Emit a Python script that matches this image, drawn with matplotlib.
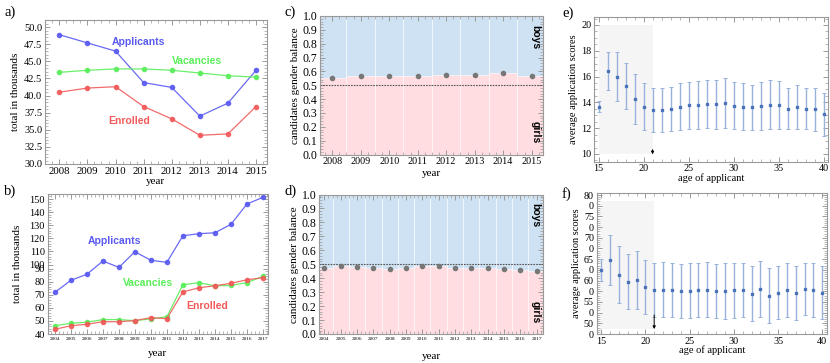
import numpy as np
import matplotlib
matplotlib.use("Agg")
import matplotlib.pyplot as plt
from matplotlib.ticker import MultipleLocator, FixedLocator

# ---------------- data ----------------
years_a = [2008, 2009, 2010, 2011, 2012, 2013, 2014, 2015]
applicants_a = [48.9, 47.7, 46.5, 41.9, 41.2, 37.0, 38.9, 43.7]
vacancies_a = [43.4, 43.7, 43.9, 43.9, 43.7, 43.3, 42.9, 42.7]
enrolled_a = [40.5, 41.1, 41.3, 38.4, 36.6, 34.2, 34.4, 38.4]

years_b = list(range(2004, 2018))
applicants_b = [71.8, 81.0, 85.6, 102.7, 93.0, 109.8, 103.3, 101.7, 122.0, 123.6, 124.3, 130.7, 146.2, 151.4]
vacancies_b = [46.3, 48.2, 49.0, 51.0, 51.0, 50.2, 51.5, 53.2, 77.6, 79.2, 76.8, 77.1, 79.2, 84.0]
enrolled_b = [43.6, 46.3, 47.4, 49.4, 49.4, 50.2, 52.5, 51.7, 72.1, 75.3, 76.8, 78.7, 81.4, 83.0]
yticks_b = [40, 50, 60, 70, 80, 90, 100, 110, 120, 130, 140, 150]

balance_c = [0.555, 0.565, 0.570, 0.570, 0.576, 0.573, 0.585, 0.565]
balance_d = [0.476, 0.488, 0.481, 0.471, 0.466, 0.476, 0.486, 0.486, 0.471, 0.474, 0.471, 0.469, 0.459, 0.452]

ages = list(range(15, 41))
score_e = [13.67, 16.43, 16.0, 15.27, 14.26, 13.67, 13.41, 13.41, 13.51, 13.67, 13.77, 13.80, 13.85,
           13.85, 13.93, 13.75, 13.67, 13.62, 13.72, 13.80, 13.77, 13.51, 13.64, 13.51, 13.46, 13.07]
err_e = [0.42, 1.5, 1.9, 1.8, 1.9, 1.8, 1.7, 1.7, 1.7, 1.8, 1.8, 1.85, 1.85,
         1.9, 1.95, 1.85, 1.8, 1.75, 1.85, 1.9, 1.85, 1.6, 1.7, 1.6, 1.65, 1.65]
score_f = [62.5, 64.8, 61.4, 59.7, 60.1, 58.5, 57.8, 57.9, 57.7, 57.6, 57.6, 57.8, 57.9,
           57.6, 57.6, 57.7, 57.8, 56.9, 58.0, 56.5, 57.2, 57.8, 57.0, 58.0, 57.7, 57.2]
err_f = [2.5, 5.8, 6.6, 6.4, 6.7, 6.4, 6.4, 6.4, 6.3, 6.3, 6.4, 6.4, 6.5,
         6.3, 6.6, 6.5, 6.4, 6.4, 6.5, 6.4, 6.3, 6.4, 6.3, 6.0, 6.3, 6.2]
yticks_f = [47.5, 50, 52.5, 55, 57.5, 60, 62.5, 65, 67.5, 70, 72.5, 75, 77.5, 80]
yticklabels_f = ["0", "50", "0", "55", "0", "60", "0", "65", "0", "70", "0", "75", "0", "80"]

# ---------------- style ----------------
SERIF = "Liberation Serif"
SANS = "Liberation Sans"
BLUE = "#5a5af2"
GREEN = "#5aee5a"
RED = "#f25a5a"
FRAME = "#9a9a9a"

W, H = 830, 363
fig = plt.figure(figsize=(W / 100, H / 100), dpi=100)


def add_ax(l, t, r, b):
    return fig.add_axes([l / W, 1 - b / H, (r - l) / W, (b - t) / H])


def frame(ax, xfs, yfs):
    for s in ax.spines.values():
        s.set_color(FRAME)
        s.set_linewidth(0.8)
    ax.tick_params(which="both", direction="in", top=True, right=True, color=FRAME)
    ax.tick_params(which="major", length=3.5, width=0.7)
    ax.tick_params(which="minor", length=2, width=0.5)
    ax.tick_params(axis="x", labelsize=xfs, pad=2)
    ax.tick_params(axis="y", labelsize=yfs, pad=2)
    for lab in ax.get_xticklabels() + ax.get_yticklabels():
        lab.set_fontfamily(SERIF)


def plabel(x, y, s):
    fig.text(x / W, 1 - y / H, s, family=SERIF, fontsize=10.5, ha="left", va="center")


# ---------------- a ----------------
ax = add_ax(45, 20, 266.7, 164)
ax.plot(years_a, applicants_a, "-o", color=BLUE, ms=3.0, lw=0.9, alpha=0.9)
ax.plot(years_a, vacancies_a, "-o", color=GREEN, ms=3.0, lw=0.9, alpha=0.9)
ax.plot(years_a, enrolled_a, "-o", color=RED, ms=3.0, lw=0.9, alpha=0.9)
ax.set_xlim(2007.49, 2015.38)
ax.set_ylim(30, 51.05)
ax.set_xticks(years_a)
ax.set_yticks(np.arange(30, 50.1, 2.5))
ax.set_yticklabels([f"{v:.1f}" for v in np.arange(30, 50.1, 2.5)])
ax.xaxis.set_minor_locator(MultipleLocator(0.25))
ax.yaxis.set_minor_locator(MultipleLocator(0.5))
frame(ax, 7.8, 7.5)
ax.set_xlabel("year", family=SERIF, fontsize=8, labelpad=1)
ax.set_ylabel("total in thousands", family=SERIF, fontsize=8, labelpad=3)
ax.text(2010.8, 47.9, "Applicants", color=BLUE, family=SANS, weight="bold", fontsize=7.5, ha="center", va="center")
ax.text(2012.9, 45.1, "Vacancies", color=GREEN, family=SANS, weight="bold", fontsize=7.5, ha="center", va="center")
ax.text(2010.5, 36.3, "Enrolled", color=RED, family=SANS, weight="bold", fontsize=7.5, ha="center", va="center")
plabel(4, 12, "a)")

# ---------------- b ----------------
def fwd(v):
    v = np.asarray(v, dtype=float)
    return np.where(v <= 90, v, np.where(v >= 100, v - 7, 90 + (v - 90) * 0.3))


def inv(p):
    p = np.asarray(p, dtype=float)
    return np.where(p <= 90, p, np.where(p >= 93, p + 7, 90 + (p - 90) / 0.3))


ax = add_ax(47.7, 194, 267.7, 334)
ax.set_yscale("function", functions=(fwd, inv))
ax.plot(years_b, applicants_b, "-o", color=BLUE, ms=3.0, lw=0.9, alpha=0.9)
ax.plot(years_b, vacancies_b, "-o", color=GREEN, ms=3.0, lw=0.9, alpha=0.9)
ax.plot(years_b, enrolled_b, "-o", color=RED, ms=3.0, lw=0.9, alpha=0.9)
ax.set_xlim(2003.55, 2017.3)
ax.set_ylim(40, 153.9)
ax.set_xticks(years_b)
ax.yaxis.set_major_locator(FixedLocator(yticks_b))
ax.yaxis.set_minor_locator(FixedLocator([v for v in range(40, 154, 2) if not (90 <= v <= 100)]))
ax.set_yticklabels([str(v) for v in yticks_b])
ax.xaxis.set_minor_locator(MultipleLocator(0.25))
frame(ax, 3.8, 7.5)
ax.set_xlabel("year", family=SERIF, fontsize=8, labelpad=6)
ax.set_ylabel("total in thousands", family=SERIF, fontsize=8, labelpad=5)
ax.text(2007.75, 118.2, "Applicants", color=BLUE, family=SANS, weight="bold", fontsize=7.5, ha="center", va="center")
ax.text(2009.8, 79.2, "Vacancies", color=GREEN, family=SANS, weight="bold", fontsize=7.5, ha="center", va="center")
ax.text(2013.5, 61.4, "Enrolled", color=RED, family=SANS, weight="bold", fontsize=7.5, ha="center", va="center")
plabel(4, 191, "b)")

# ---------------- c / d ----------------
PINK = "#ffdde1"
LBLUE = "#cfe2f3"


def balance(ax, years, vals, xlim, xfs):
    ax.bar(years, [1] * len(years), width=1, color=LBLUE, edgecolor="white", linewidth=0.4, zorder=0)
    ax.bar(years, vals, width=1, color=PINK, edgecolor="white", linewidth=0.4, zorder=1)
    ax.axhline(0.5, color="#555555", ls=(0, (1.5, 1)), lw=0.8, zorder=2)
    ax.plot(years, vals, "o", color="#777777", ms=3.0, zorder=3)
    ax.set_xlim(*xlim)
    ax.set_ylim(0, 1)
    ax.set_xticks(years)
    ax.set_yticks(np.arange(0, 1.01, 0.1))
    ax.set_yticklabels([f"{v:.1f}" for v in np.arange(0, 1.01, 0.1)])
    ax.xaxis.set_minor_locator(MultipleLocator(0.25))
    ax.yaxis.set_minor_locator(MultipleLocator(0.02))
    frame(ax, xfs, 8.5)
    ax.set_ylabel("candidates gender balance", family=SERIF, fontsize=8, labelpad=2)
    ax.text(0.965, 0.85, "boys", rotation=270, transform=ax.transAxes, family=SANS, weight="bold",
            fontsize=7.5, ha="center", va="center")
    ax.text(0.965, 0.16, "girls", rotation=270, transform=ax.transAxes, family=SANS, weight="bold",
            fontsize=7.5, ha="center", va="center")


ax = add_ax(320, 16, 543.3, 154.5)
balance(ax, years_a, balance_c, (2007.57, 2015.41), 7.3)
ax.set_xlabel("year", family=SERIF, fontsize=8, labelpad=2)
plabel(284, 12, "c)")

ax = add_ax(319.3, 194.5, 543.3, 334)
balance(ax, years_b, balance_d, (2003.69, 2017.41), 3.8)
ax.set_xlabel("year", family=SERIF, fontsize=8, labelpad=8)
plabel(284, 191, "d)")

# ---------------- e / f ----------------
PT = "#4a72b8"
EB = "#98b2dc"


def scores(ax, vals, errs, region, arrow):
    ax.add_patch(plt.Rectangle((15, region[0]), 6, region[1] - region[0], color="#f5f5f5", zorder=0, lw=0))
    ax.errorbar(ages, vals, yerr=errs, fmt="s", ms=1.7, color=PT, ecolor=EB, elinewidth=1.0,
                capsize=1.5, capthick=0.7, zorder=2)
    ax.annotate("", xy=(21, arrow[1]), xytext=(21, arrow[0]),
                arrowprops=dict(arrowstyle="-|>", color="black", lw=0.7, mutation_scale=4), zorder=3)
    ax.set_xlim(14.5, 40.5)
    ax.set_xticks([15, 20, 25, 30, 35, 40])
    ax.xaxis.set_minor_locator(MultipleLocator(1))
    ax.set_ylabel("average application scores", family=SERIF, fontsize=7.5, labelpad=2)
    ax.set_xlabel("age of applicant", family=SERIF, fontsize=7.5, labelpad=0)


ax = add_ax(594, 16.7, 828.3, 161.7)
scores(ax, score_e, err_e, (10, 20), (10.55, 9.75))
ax.set_ylim(9.4, 20.64)
ax.set_yticks([10, 12, 14, 16, 18, 20])
ax.yaxis.set_minor_locator(MultipleLocator(0.5))
frame(ax, 7.3, 7.3)
plabel(562, 13, "e)")

ax = add_ax(596.7, 193.3, 826.7, 334)
scores(ax, score_f, err_f, (48.7, 78.7), (52.6, 48.0))
ax.set_ylim(47.5, 80.4)
ax.yaxis.set_major_locator(FixedLocator(yticks_f))
ax.set_yticklabels(yticklabels_f)
ax.yaxis.set_minor_locator(MultipleLocator(0.5))
frame(ax, 7.3, 7.3)
plabel(562, 194, "f)")

fig.savefig("out.png", dpi=100)
